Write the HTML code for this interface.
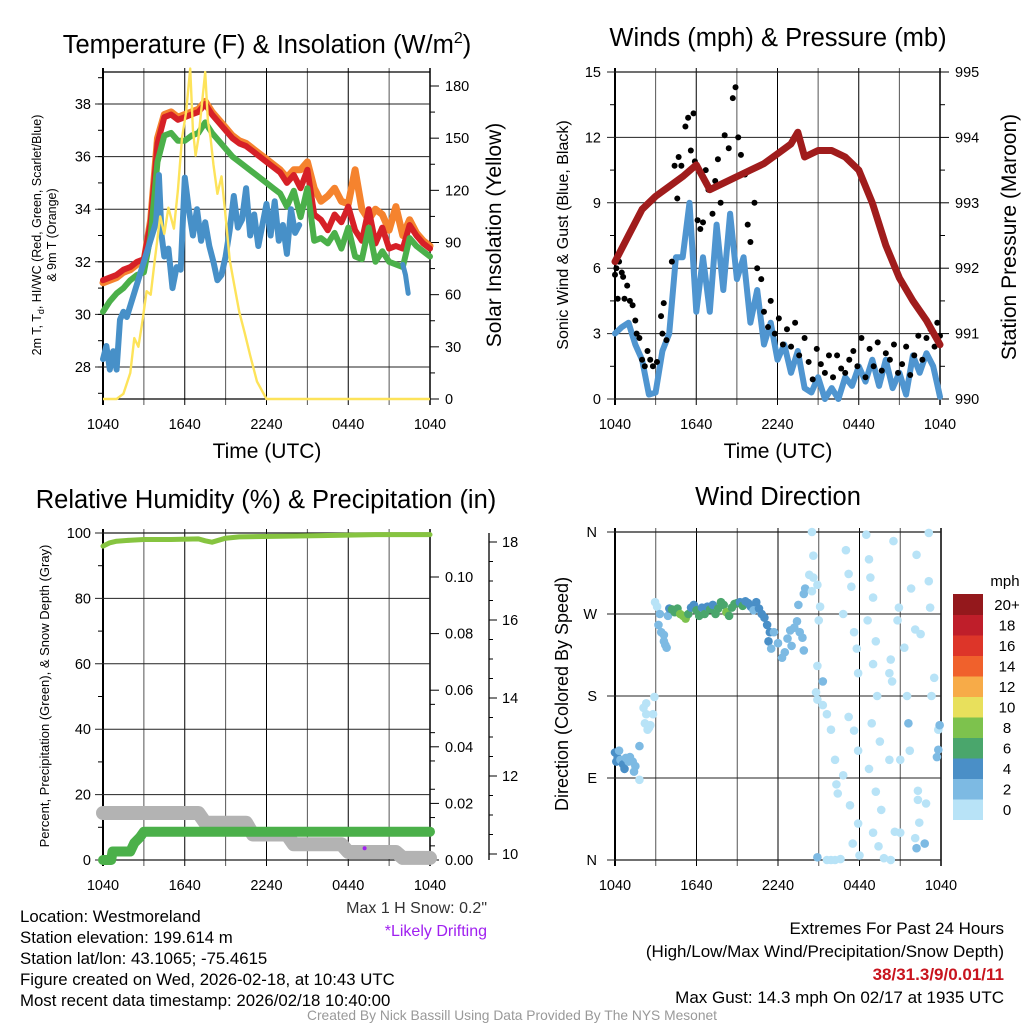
<!DOCTYPE html>
<html><head><meta charset="utf-8"><style>
html,body{margin:0;padding:0;background:#fff;}
svg{display:block;font-family:"Liberation Sans",sans-serif;}
</style></head><body>
<svg id="chart" xmlns="http://www.w3.org/2000/svg" width="1024" height="1024" viewBox="0 0 1024 1024">
<rect x="0" y="0" width="1024" height="1024" fill="#fff"/>
<text x="267" y="53" font-size="25.5" text-anchor="middle">Temperature (F) &amp; Insolation (W/m<tspan dy="-10" font-size="16">2</tspan><tspan dy="10">)</tspan></text>
<text x="778" y="46" font-size="25.5" text-anchor="middle">Winds (mph) &amp; Pressure (mb)</text>
<text x="266" y="508" font-size="25.5" text-anchor="middle">Relative Humidity (%) &amp; Precipitation (in)</text>
<text x="778" y="505" font-size="25.5" text-anchor="middle">Wind Direction</text>
<text x="267" y="458" font-size="21" text-anchor="middle">Time (UTC)</text>
<text x="778" y="458" font-size="21" text-anchor="middle">Time (UTC)</text>
<text transform="translate(41,235) rotate(-90)" font-size="12.5" text-anchor="middle">2m T, T<tspan dy="3" font-size="9">d</tspan><tspan dy="-3">, HI/WC (Red, Green, Scarlet/Blue)</tspan></text>
<text transform="translate(56,235) rotate(-90)" font-size="12.5" text-anchor="middle">&amp; 9m T (Orange)</text>
<text transform="translate(501,235) rotate(-90)" font-size="21" text-anchor="middle">Solar Insolation (Yellow)</text>
<text transform="translate(568,235) rotate(-90)" font-size="16" text-anchor="middle">Sonic Wind &amp; Gust (Blue, Black)</text>
<text transform="translate(1016,237) rotate(-90)" font-size="21" text-anchor="middle">Station Pressure (Maroon)</text>
<text transform="translate(49,696) rotate(-90)" font-size="13" text-anchor="middle">Percent, Precipitation (Green), &amp; Snow Depth (Gray)</text>
<text transform="translate(568,694) rotate(-90)" font-size="18" text-anchor="middle">Direction (Colored By Speed)</text>
<text x="1004" y="934" font-size="17" text-anchor="end">Extremes For Past 24 Hours</text>
<text x="1004" y="957" font-size="17" text-anchor="end">(High/Low/Max Wind/Precipitation/Snow Depth)</text>
<text x="1004" y="980" font-size="17" font-weight="bold" fill="#c8141e" text-anchor="end">38/31.3/9/0.01/11</text>
<text x="1004" y="1003" font-size="17" text-anchor="end">Max Gust: 14.3 mph On 02/17 at 1935 UTC</text>
<text x="487" y="913" font-size="16" fill="#333" text-anchor="end">Max 1 H Snow: 0.2"</text>
<text x="487" y="936" font-size="16" fill="#a020f0" text-anchor="end">*Likely Drifting</text>
<g font-size="16.8">
<text x="20" y="922">Location: Westmoreland</text>
<text x="20" y="943">Station elevation: 199.614 m</text>
<text x="20" y="964">Station lat/lon: 43.1065; -75.4615</text>
<text x="20" y="985">Figure created on Wed, 2026-02-18, at 10:43 UTC</text>
<text x="20" y="1006">Most recent data timestamp: 2026/02/18 10:40:00</text>
</g>
<text x="512" y="1020" font-size="13.8" fill="#999" text-anchor="middle">Created By Nick Bassill Using Data Provided By The NYS Mesonet</text>
</svg>
<script>
// ---------- data ----------
const xTickLabels = ["1040","1640","2240","0440","1040"];
const xTickHours = [0,6,12,18,24];
const tempHours = [0,0.5,1,1.5,2,2.5,3,3.5,4,4.5,5,5.5,6,6.5,7,7.5,8,8.5,9,9.5,10,10.5,11,11.5,12,12.5,13,13.5,14,14.5,15,15.5,16,16.5,17,17.5,18,18.5,19,19.5,20,20.5,21,21.5,22,22.5,23,23.5,24];
const heatIndex = [31.3,31.4,31.5,31.7,31.8,32.0,32.1,33.5,36.5,37.5,37.6,37.4,37.5,37.6,37.7,38.0,37.6,37.3,37.0,36.7,36.5,36.4,36.2,36.0,35.8,35.6,35.4,35.0,35.3,34.8,35.5,33.8,33.6,33.2,33.8,33.5,34.1,33.2,32.8,34.0,32.7,33.3,32.5,32.6,32.5,33.4,33.0,32.7,32.5];
const temp9m = [31.2,31.3,31.4,31.6,31.7,31.9,32.0,33.6,36.7,37.6,37.7,37.5,37.6,37.7,37.8,38.1,37.7,37.4,37.1,36.8,36.6,36.5,36.3,36.1,35.9,35.7,35.5,35.2,35.5,35.5,35.8,34.8,34.3,34.5,34.8,34.3,34.2,35.5,34.0,33.6,34.0,33.8,33.2,34.1,33.0,33.6,33.1,32.8,32.6];
const temp2m = [30.1,30.5,30.8,31.0,31.3,31.5,31.6,33.0,35.8,36.8,36.9,36.6,36.6,36.8,36.9,37.3,36.9,36.6,36.3,36.0,35.8,35.6,35.4,35.2,35.0,34.8,34.6,34.1,34.7,33.7,34.8,32.8,32.9,32.7,33.1,32.5,33.3,32.2,32.1,33.3,32.0,32.4,32.0,31.9,31.8,32.9,32.6,32.4,32.2];
const dewHours = [0,0.25,0.5,0.75,1,1.25,1.5,1.75,3.9,4.1,4.3,4.5,4.8,5.1,5.4,5.7,6.0,6.3,6.6,6.9,7.2,7.5,7.8,8.1,8.4,8.7,9.0,9.3,9.6,9.9,10.2,10.5,10.8,11.1,11.4,11.7,12.0,12.3,12.6,12.9,13.2,13.5,13.8,14.1,14.4];
const dewPoint = [28.3,28.8,27.9,28.6,27.9,29.8,30.1,29.9,33.5,35.3,33.0,32.2,32.5,31.0,31.8,31.7,35.2,34.0,33.0,34.0,32.8,33.5,32.6,32.0,31.3,31.5,32.2,33.2,34.5,33.3,33.6,34.8,33.0,33.8,32.6,33.4,34.2,33.0,34.3,32.8,33.4,32.3,34.0,33.1,33.4];
const dewTailHours = [22.0,22.2,22.4];
const dewTail = [31.9,31.5,30.8];
const solarHours = [0,1,1.5,2,2.3,2.6,2.9,3.2,3.5,3.8,4.2,4.5,4.8,5.2,5.5,5.8,6.1,6.4,6.6,6.8,7.0,7.2,7.5,7.7,7.9,8.1,8.4,8.7,9.0,9.3,9.6,10.0,10.4,10.8,11.3,12,24];
const solarVals = [0,0,3,15,35,30,45,62,60,80,105,95,110,98,120,150,165,190,155,140,150,165,188,160,150,135,118,128,105,80,67,50,38,25,10,0,0];
const windHours = tempHours;
const windSpeed = [3,3.3,3.5,2.5,1.8,0.2,0.3,2.2,3,6.5,6.5,9,4,6.5,4,8,5,8.5,5.5,6.5,3.5,5,2.5,3.5,1.8,2.5,1.2,2.2,0.5,0.3,1,0,0.5,0,1,0.6,1.5,0.8,1.8,0.6,1.8,0.5,1.2,0.2,2,1.2,2.1,1.5,0.1];
const gustHours = [0,0.1,0.2,0.3,0.5,0.6,0.7,0.9,1.1,1.3,1.5,1.6,1.8,2.0,2.2,2.4,2.6,2.8,3.1,3.4,3.5,3.6,3.8,4.2,4.4,4.6,4.7,4.9,5.2,5.4,5.6,5.8,5.9,6.1,6.3,6.5,6.7,6.9,7.2,7.4,7.6,7.8,8.1,8.4,8.7,8.9,9.1,9.3,9.6,9.8,10.0,10.3,10.5,10.8,11.0,11.3,11.5,11.8,12.1,12.4,12.7,13.0,13.3,13.6,14.0,14.3,14.6,14.9,15.2,15.5,15.8,16.1,16.4,16.7,17.0,17.3,17.6,17.9,18.2,18.5,18.8,19.1,19.4,19.7,20.0,20.3,20.6,20.9,21.2,21.5,21.8,22.1,22.4,22.7,23.0,23.3,23.6,23.8,24.0];
const gustVals = [5.7,6.0,4.6,6.3,5.8,5.6,4.6,5.2,4.5,4.3,3.6,3.0,2.8,1.8,1.5,2.2,1.8,1.5,1.7,3.8,3.0,4.4,2.7,6.3,10.7,9.2,11.1,10.7,12.5,12.9,11.4,13.1,10.9,8.2,7.8,8.1,10.5,9.6,8.5,10.0,11.0,9.0,12.1,11.5,13.8,14.3,12.0,11.2,10.3,8.0,7.2,9.0,6.0,5.5,4.0,3.3,4.5,3.0,3.7,2.5,3.2,2.4,3.5,2.0,2.8,1.7,0.9,2.3,1.6,1.2,2.0,1.0,2.0,1.4,1.2,1.8,2.2,1.5,2.8,1.0,2.3,1.5,2.6,1.3,2.1,1.8,2.5,1.2,1.6,2.4,1.1,2.0,2.9,1.8,2.8,3.2,2.4,3.5,2.9];
const pressHours = [0,1,2,3,4,5,6,7,8,9,10,11,12,13,13.5,14,15,16,17,18,19,20,21,22,23,24];
const pressure = [992.1,992.5,992.9,993.1,993.25,993.4,993.58,993.2,993.3,993.4,993.5,993.6,993.75,993.9,994.08,993.7,993.8,993.8,993.7,993.5,993.0,992.35,991.85,991.5,991.2,990.83];
const rhHours = [0,0.5,1,2,3,5,7,7.5,8,9,10,13,16,20,24];
const rhVals = [96,97,97.5,97.8,98,98,98.2,97.6,97.2,98.4,98.8,99,99.2,99.5,99.5];
const precipHours = [0,0.6,0.7,2.0,2.3,2.7,3.0,24];
const precipVals = [0,0,0.003,0.003,0.006,0.008,0.01,0.01];
const snowHours = [0,7,7.5,10.5,11,13.5,14,17.5,18,21.5,22,24];
const snowDepth = [11.05,11.05,10.8,10.8,10.5,10.5,10.25,10.25,10.05,10.05,9.9,9.9];
const driftHours = [19.2];
const driftDepth = [10.2];
const speedBins = ["0","2","4","6","8","10","12","14","16","18","20+"];
const speedColors = ["#b8e3f7","#7dbae3","#4a8fc7","#4aa66c","#7dc24d","#e8e05c","#f7ab48","#f0612c","#dd3529","#bf1e2a","#94181c"];
const dirHours = [0,0.1,0.2,0.3,0.4,0.6,0.7,0.8,1.0,1.1,1.3,1.5,1.4,1.8,1.8,2.2,2.3,2.4,2.5,2.6,2.1,2.3,2.9,2.8,2.95,3.1,3.3,3.2,3.4,3.6,3.7,3.8,3.6,3.9,4.0,4.2,4.4,4.6,4.8,5.0,5.2,5.4,5.6,5.8,6.0,6.2,6.4,6.6,6.8,7.0,7.2,7.4,7.6,7.8,8.0,8.2,8.4,8.6,8.8,9.0,9.2,9.4,9.6,9.8,10.0,10.2,10.4,10.6,10.8,11.0,11.2,11.4,11.3,11.5,11.7,12.0,12.3,12.5,12.7,12.9,13.0,13.2,13.4,13.6,13.8,13.9,13.5,13.9,14.0,14.5,14.6,14.3,14.6,14.5,14.9,15.1,15.0,14.9,15.3,14.8,14.9,15.3,15.6,15.9,16.2,16.3,16.4,14.9,15.6,15.9,16.2,16.6,17.0,17.2,17.4,16.8,17.6,17.8,17.9,17.2,17.6,17.9,16.8,17.3,17.9,17.5,18.0,18.5,18.7,18.8,19.0,18.6,19.2,19.0,19.3,18.9,19.5,18.7,19.2,19.6,19.0,19.4,19.8,20.5,20.9,20.8,21.3,20.3,20.2,20.4,20.2,21.0,20.6,21.0,20.3,21.8,22.1,22.5,22.2,23.1,23.1,23.2,22.3,22.3,22.9,22.4,22.1,22.2,22.8,23.8,23.8,23.7,23.9,21.6,21.7,21.5,23.5,23.3];
const dirDegs = [118,108,112,120,110,105,100,112,108,113,108,103,97,88,125,150,160,143,145,148,167,172,179,160,283,278,270,258,250,240,236,233,247,268,276,275,272,276,270,268,265,270,277,280,274,268,277,270,278,275,280,270,276,283,280,272,268,277,281,282,283,279,284,282,278,274,283,276,270,266,258,250,240,232,250,238,222,228,243,252,235,255,262,250,244,230,280,292,298,360,334,313,310,295,302,278,263,213,196,184,176,170,160,143,110,83,73,3,0,0,0,1,340,314,300,270,250,232,205,157,142,120,93,60,40,18,5,357,330,310,288,263,240,215,180,150,130,100,75,55,30,15,2,350,277,263,233,220,205,196,110,110,31,30,0,298,253,248,335,306,359,277,76,66,62,41,24,13,18,143,121,113,148,150,120,180,200,180];
const dirSpeeds = [4,5,4.5,3,3,5,4.5,3,3,3,2.5,3,2,1,3.5,1,1.5,1,1.5,1,1,1,1,1.5,1,1.5,2,2,2,3,3,3,3.5,2.5,4.5,6,7,6,8,8,8,6,5,4.5,6,7,5,6.5,5,6,4.5,6,7,6,7,8,7,7.5,6,6,5.5,6,4.5,4,4,3,4,4.5,4.5,4.5,5,5,5,3,3,2.5,3,3,2.5,2.5,2.5,3,2.5,3,3,2,3,3.5,2,1,1,1,1,1,1,1,1,1,3,1,1,1,1,1,1,1,1,3,1,1,1,1,1,1,1,1,1,1,1,1,1,1,1,1,1,1,1,1,1,1,1,1,1,1,1,1,1,1,1,1,1,1,1,1,1,1,1,1,1,1,1,1,1,1,1,1,1,1,1,1,1,1,1,1,1,1,1,3.5,3,1,3.5,3.5,3.5,3,1,1,1,1,1];

// ---------- helpers ----------
const NS = "http://www.w3.org/2000/svg";
const svg = document.getElementById("chart");
function mk(tag, attrs, name, parent){
  const el = document.createElementNS(NS, tag);
  for (const k in attrs) el.setAttribute(k, attrs[k]);
  
  
  (parent || svg).appendChild(el);
  return el;
}
function txt(x, y, s, anchor, size, name, fill){
  const t = mk("text", {x:x, y:y, "font-size":size||14, "text-anchor":anchor||"middle", fill:fill||"#000"}, name);
  t.textContent = s;
  return t;
}
function pathFrom(xs, ys){
  let d = "", pen = false;
  for (let i = 0; i < xs.length; i++){
    if (ys[i] === null || ys[i] === undefined){ pen = false; continue; }
    d += (pen ? "L" : "M") + xs[i].toFixed(1) + " " + ys[i].toFixed(1) + " ";
    pen = true;
  }
  return d;
}
function speedColor(s){ let i = Math.floor(s/2); if (i > 10) i = 10; if (i < 0) i = 0; return speedColors[i]; }

function panel(P, name){
  const g = mk("g", {}, name);
  for (let h = 3; h < 24; h += 3){
    const x = P.x(h);
    mk("line", {x1:x, y1:P.T-4, x2:x, y2:P.B+6, stroke: (h%6===0)?"#000":"#555", "stroke-width":1}, "vertical-gridline", g);
  }
  mk("line", {x1:P.L, y1:P.T, x2:P.R, y2:P.T, stroke:"#000", "stroke-width":1.2}, "top-border", g);
  mk("line", {x1:P.L, y1:P.B, x2:P.R, y2:P.B, stroke:"#000", "stroke-width":1.2}, "bottom-axis", g);
  mk("line", {x1:P.L, y1:P.T-4, x2:P.L, y2:P.B+6, stroke:"#000", "stroke-width":2}, "left-axis", g);
  mk("line", {x1:P.R, y1:P.T-4, x2:P.R, y2:P.B+6, stroke:"#000", "stroke-width":1.5}, "right-axis", g);
  xTickHours.forEach((h, i) => {
    txt(P.x(h), P.B + 30, xTickLabels[i], "middle", 14.5, "x-tick-label");
  });
  return g;
}
function hgrid(P, ys, g){
  ys.forEach(y => {
    mk("line", {x1:P.L-8, y1:y, x2:P.R, y2:y, stroke:"#222", "stroke-width":1}, "horizontal-gridline", g);
  });
}

// ---------- Panel 1: temperature ----------
const P1 = {L:103, R:430, T:72, B:399};
P1.x = h => P1.L + h * (P1.R - P1.L) / 24;
const yT = t => 367 - (t - 28) * 26.3;
const yS = s => 399 - s * 313 / 180;
const g1 = panel(P1, "temperature-panel");
const tTicks = [28,30,32,34,36,38];
hgrid(P1, tTicks.map(yT), g1);
tTicks.forEach(t => txt(P1.L - 12, yT(t) + 5, String(t), "end", 14.5, "temp-y-tick-label"));
for (let t = 27; t <= 39; t += 1) mk("line", {x1:P1.L-5, y1:yT(t), x2:P1.L, y2:yT(t), stroke:"#000"}, "temp-minor-tick", g1);
for (let s = 0; s <= 180; s += 30){
  mk("line", {x1:P1.R, y1:yS(s), x2:P1.R+9, y2:yS(s), stroke:"#000"}, "solar-tick", g1);
  txt(P1.R + 15, yS(s) + 5, String(s), "start", 14.5, "solar-y-tick-label");
}
for (let s = 15; s <= 180; s += 30) mk("line", {x1:P1.R, y1:yS(s), x2:P1.R+5, y2:yS(s), stroke:"#000"}, "solar-minor-tick", g1);
const tx = tempHours.map(P1.x);
mk("path", {d:pathFrom(tx, temp9m.map(yT)), fill:"none", stroke:"#f5832e", "stroke-width":7, "stroke-linejoin":"round", "stroke-linecap":"round"}, "temp-9m-orange-line", g1);
mk("path", {d:pathFrom(tx, heatIndex.map(yT)), fill:"none", stroke:"#d62027", "stroke-width":6, "stroke-linejoin":"round", "stroke-linecap":"round"}, "heat-index-red-line", g1);
mk("path", {d:pathFrom(tx, temp2m.map(yT)), fill:"none", stroke:"#4bb04a", "stroke-width":6, "stroke-linejoin":"round", "stroke-linecap":"round"}, "temp-2m-green-line", g1);
mk("path", {d:pathFrom(dewHours.map(P1.x), dewPoint.map(yT)), fill:"none", stroke:"#4790c8", "stroke-width":6, "stroke-linejoin":"round", "stroke-linecap":"round"}, "dewpoint-blue-line", g1);
mk("path", {d:pathFrom(dewTailHours.map(P1.x), dewTail.map(yT)), fill:"none", stroke:"#4790c8", "stroke-width":5, "stroke-linecap":"round"}, "dewpoint-blue-tail", g1);
mk("path", {d:pathFrom(solarHours.map(P1.x), solarVals.map(yS)), fill:"none", stroke:"#fde35a", "stroke-width":2.4, "stroke-linejoin":"round"}, "solar-yellow-line", g1);

// ---------- Panel 2: winds ----------
const P2 = {L:615, R:940, T:72, B:399};
P2.x = h => P2.L + h * (P2.R - P2.L) / 24;
const yW = w => 399 - w * 327 / 15;
const yP = p => 399 - (p - 990) * 327 / 5;
const g2 = panel(P2, "winds-panel");
const wTicks = [0,3,6,9,12,15];
hgrid(P2, wTicks.map(yW), g2);
wTicks.forEach(w => txt(P2.L - 14, yW(w) + 5, String(w), "end", 14.5, "wind-y-tick-label"));
for (let w = 1.5; w < 15; w += 3) mk("line", {x1:P2.L-5, y1:yW(w), x2:P2.L, y2:yW(w), stroke:"#000"}, "wind-minor-tick", g2);
for (let p = 990; p <= 995; p++){
  mk("line", {x1:P2.R, y1:yP(p), x2:P2.R+9, y2:yP(p), stroke:"#000"}, "pressure-tick", g2);
  txt(P2.R + 15, yP(p) + 5, String(p), "start", 14.5, "pressure-y-tick-label");
}
for (let p = 990.5; p < 995; p++) mk("line", {x1:P2.R, y1:yP(p), x2:P2.R+5, y2:yP(p), stroke:"#000"}, "pressure-minor-tick", g2);
const clip2 = mk("clipPath", {id:"clip2"}, "winds-clip", g2);
mk("rect", {x:P2.L-5, y:P2.T, width:P2.R-P2.L+10, height:P2.B-P2.T+3}, "winds-clip-rect", clip2);
const gw = mk("g", {"clip-path":"url(#clip2)"}, "winds-series", g2);
mk("path", {d:pathFrom(windHours.map(P2.x), windSpeed.map(yW)), fill:"none", stroke:"#4f95d0", "stroke-width":6, "stroke-linejoin":"round", "stroke-linecap":"round"}, "sonic-wind-blue-line", gw);
gustHours.forEach((h, i) => {
  mk("circle", {cx:P2.x(h), cy:yW(gustVals[i]), r:3, fill:"#000"}, "gust-point", gw);
});
mk("path", {d:pathFrom(pressHours.map(P2.x), pressure.map(yP)), fill:"none", stroke:"#a01c1c", "stroke-width":7, "stroke-linejoin":"round", "stroke-linecap":"round"}, "pressure-maroon-line", gw);

// ---------- Panel 3: humidity ----------
const P3 = {L:103, R:430, T:533, B:860};
P3.x = h => P3.L + h * (P3.R - P3.L) / 24;
const yRH = r => 860 - r * 327 / 100;
const yPr = p => 860 - p * 2830;
const ySn = s => 854 - (s - 10) * 39;
const g3 = panel(P3, "humidity-panel");
const rhTicks = [0,20,40,60,80,100];
hgrid(P3, rhTicks.map(yRH), g3);
rhTicks.forEach(r => txt(P3.L - 12, yRH(r) + 5, String(r), "end", 14.5, "humidity-y-tick-label"));
for (let r = 10; r < 100; r += 20) mk("line", {x1:P3.L-5, y1:yRH(r), x2:P3.L, y2:yRH(r), stroke:"#000"}, "humidity-minor-tick", g3);
for (let i = 0; i <= 5; i++){
  const p = i * 0.02;
  mk("line", {x1:P3.R, y1:yPr(p), x2:P3.R+9, y2:yPr(p), stroke:"#000"}, "precip-tick", g3);
  txt(P3.R + 15, yPr(p) + 5, p.toFixed(2), "start", 14.5, "precip-y-tick-label");
}
for (let i = 1; i <= 11; i += 2) mk("line", {x1:P3.R, y1:yPr(i*0.005), x2:P3.R+5, y2:yPr(i*0.005), stroke:"#000"}, "precip-minor-tick", g3);
mk("line", {x1:489, y1:533, x2:489, y2:860, stroke:"#222", "stroke-width":1.5}, "snow-axis", g3);
for (let s = 10; s <= 18; s += 2){
  mk("line", {x1:489, y1:ySn(s), x2:497, y2:ySn(s), stroke:"#000"}, "snow-tick", g3);
  txt(502, ySn(s) + 5, String(s), "start", 14.5, "snow-y-tick-label");
}
for (let s = 10.5; s < 18.2; s += 0.5) mk("line", {x1:489, y1:ySn(s), x2:493, y2:ySn(s), stroke:"#000"}, "snow-minor-tick", g3);
mk("path", {d:pathFrom(snowHours.map(P3.x), snowDepth.map(ySn)), fill:"none", stroke:"#b3b3b3", "stroke-width":14, "stroke-linejoin":"round", "stroke-linecap":"round"}, "snow-depth-gray-line", g3);
mk("path", {d:pathFrom(precipHours.map(P3.x), precipVals.map(yPr)), fill:"none", stroke:"#4bb04a", "stroke-width":10, "stroke-linejoin":"round", "stroke-linecap":"round"}, "precip-green-line", g3);
mk("path", {d:pathFrom(rhHours.map(P3.x), rhVals.map(yRH)), fill:"none", stroke:"#86c440", "stroke-width":5, "stroke-linejoin":"round", "stroke-linecap":"round"}, "humidity-line", g3);
driftHours.forEach((h, i) => {
  mk("circle", {cx:P3.x(h), cy:ySn(driftDepth[i]) + 2, r:2, fill:"#a020f0"}, "drifting-marker", g3);
});

// ---------- Panel 4: wind direction ----------
const P4 = {L:615, R:941, T:532, B:860};
P4.x = h => P4.L + h * (P4.R - P4.L) / 24;
const yD = d => 860 - d * 328 / 360;
const g4 = panel(P4, "direction-panel");
const dirTicks = [0,90,180,270,360];
const dirLabels = ["N","E","S","W","N"];
hgrid(P4, dirTicks.map(yD), g4);
dirTicks.forEach((d, i) => txt(P4.L - 18, yD(d) + 5, dirLabels[i], "end", 14.5, "direction-y-tick-label"));
dirHours.forEach((h, i) => {
  mk("circle", {cx:P4.x(h), cy:yD(dirDegs[i]), r:4.3, fill:speedColor(dirSpeeds[i])}, "direction-point", g4);
});
const cb = mk("g", {}, "speed-colorbar");
txt(1005, 586, "mph", "middle", 15, "colorbar-title");
const cbTop = 594, cbH = 20.5;
speedBins.forEach((b, i) => {
  const k = speedBins.length - 1 - i;
  mk("rect", {x:953, y:cbTop + k*cbH, width:30, height:cbH+0.5, fill:speedColors[i]}, "colorbar-swatch", cb);
  txt(1007, cbTop + k*cbH + 16, b, "middle", 15, "colorbar-label");
});
</script>
</body></html>
